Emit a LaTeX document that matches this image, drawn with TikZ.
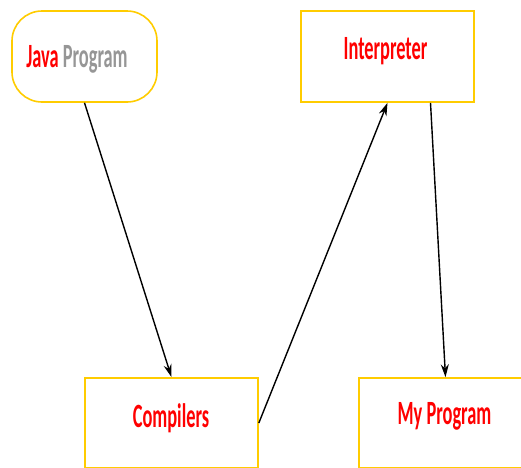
\documentclass[tikz,border=0pt]{standalone}
\usepackage{fontspec}
\setmainfont{Carlito}
\usetikzlibrary{arrows.meta}
\definecolor{boxyellow}{RGB}{255,204,0}
\definecolor{txtred}{RGB}{255,0,0}
\definecolor{txtgray}{RGB}{150,150,150}
\newcommand{\lbl}[1]{\scalebox{0.54}[1]{\fontsize{34}{34}\selectfont\bfseries #1}}
\tikzset{
  box/.style={draw=boxyellow, line width=1.6pt, fill=white, rectangle, inner sep=0pt},
  txt/.style={anchor=base, inner sep=0pt, text=txtred},
  conn/.style={line width=1.4pt, -{Stealth[length=13pt,width=8pt]}}
}
\begin{document}
\begin{tikzpicture}[x=1pt,y=-1pt]
\useasboundingbox (0,0) rectangle (521,467);
\clip (0,0) rectangle (521,467);
\node[box, rounded corners=30pt, minimum width=145pt, minimum height=91pt] (java) at (84.5,56.5) {};
\node[box, minimum width=173pt, minimum height=91pt] (interp) at (387.5,56.5) {};
\node[box, minimum width=173pt, minimum height=90pt] (comp) at (171.5,423) {};
\node[box, minimum width=173pt, minimum height=90pt] (myprog) at (445.5,423) {};
\node[txt] (javat) at (77,67) {\lbl{Java \textcolor{txtgray}{Program}}};
\node[txt] (interpt) at (385.5,59) {\lbl{Interpreter}};
\node[txt] (compt) at (171,427) {\lbl{Compilers}};
\node[txt] (myprogt) at (444.5,424) {\lbl{My Program}};
\draw[conn] (java.south) -- (comp.north);
\draw[conn] (comp.east) -- (interp.south);
\draw[conn] ([xshift=43pt]interp.south) -- (myprog.north);
\end{tikzpicture}
\end{document}
